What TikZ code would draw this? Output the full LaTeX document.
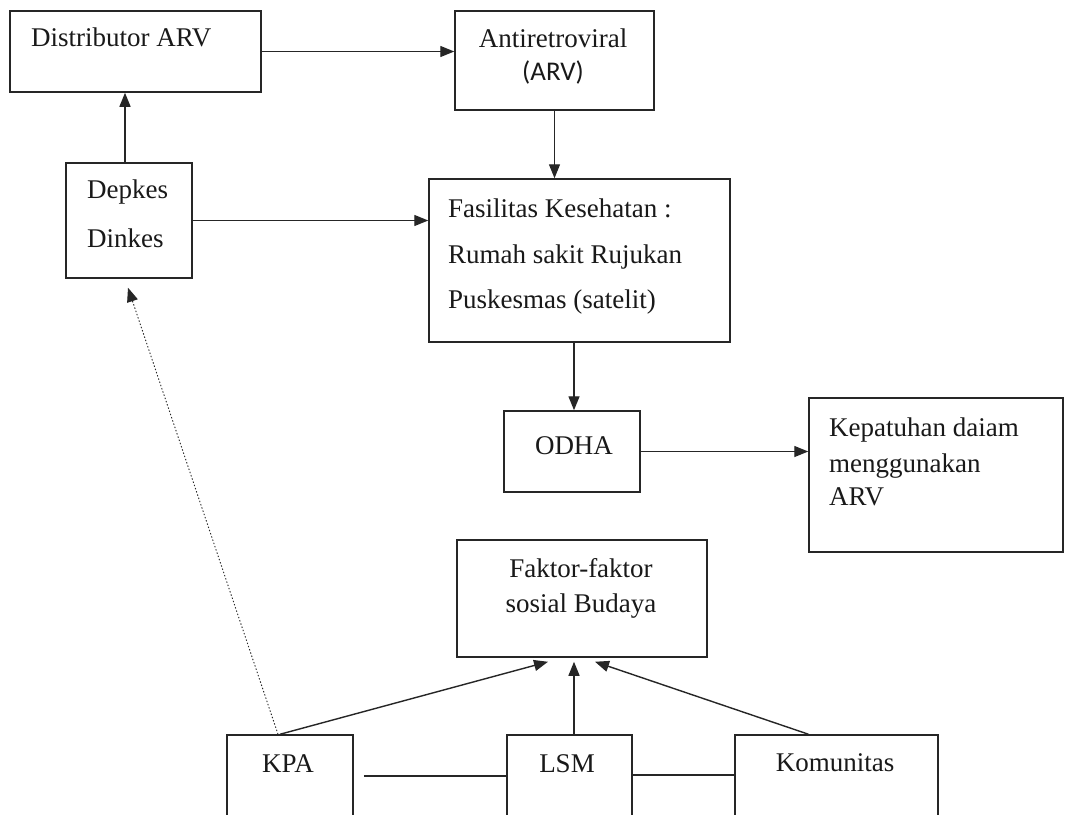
\documentclass[tikz,border=0pt]{standalone}
\usepackage{fontspec}
\setmainfont{Liberation Serif}
\newfontfamily\arvfont{Carlito}
\usetikzlibrary{arrows.meta}
\begin{document}
\begin{tikzpicture}[x=1pt,y=-1pt,
  box/.style={draw=black!85, line width=1.5pt, rectangle, inner sep=0pt},
  lbl/.style={font=\fontsize{27}{32}\selectfont, inner sep=0pt, text=black!90},
  arr/.style={draw=black!85, line width=1.4pt, -{Triangle[length=14pt,width=11pt]}},
  link/.style={draw=black!85, line width=1.4pt}]
\clip (0,0) rectangle (1067,814);
\fill[white] (0,0) rectangle (1067,814);
% boxes
\node[box, minimum width=251pt, minimum height=81pt] (dist) at (135.5,51.5) {};
\node[box, minimum width=199pt, minimum height=99pt] (arv) at (554.5,60.5) {};
\node[box, minimum width=126pt, minimum height=115pt] (dep) at (129,220.5) {};
\node[box, minimum width=301pt, minimum height=163pt] (fas) at (579.5,260.5) {};
\node[box, minimum width=136pt, minimum height=81pt] (odha) at (572,451.5) {};
\node[box, minimum width=254pt, minimum height=154pt] (kep) at (936,475) {};
\node[box, minimum width=250pt, minimum height=117pt] (fak) at (582,598.5) {};
\node[box, minimum width=126pt, minimum height=105pt] (kpa) at (290,787.5) {};
\node[box, minimum width=125pt, minimum height=105pt] (lsm) at (569.5,787.5) {};
\node[box, minimum width=203pt, minimum height=105pt] (kom) at (836.5,787.5) {};
% texts
\node[lbl, anchor=base west] (t1) at (31,46) {Distributor ARV};
\node[lbl, anchor=base] (t2) at (553,47) {Antiretroviral};
\node[lbl, anchor=base] (t3) at (553,80) {\arvfont (ARV)};
\node[lbl, anchor=base west] (t4) at (87,198) {Depkes};
\node[lbl, anchor=base west] (t5) at (87,247) {Dinkes};
\node[lbl, anchor=base west] (t6) at (448,217) {Fasilitas Kesehatan :};
\node[lbl, anchor=base west] (t7) at (448,263) {Rumah sakit Rujukan};
\node[lbl, anchor=base west] (t8) at (448,308) {Puskesmas (satelit)};
\node[lbl, anchor=base] (t9) at (574,454) {ODHA};
\node[lbl, anchor=base west] (t10) at (829,436) {Kepatuhan daiam};
\node[lbl, anchor=base west] (t11) at (829,472) {menggunakan};
\node[lbl, anchor=base west] (t12) at (829,505) {ARV};
\node[lbl, anchor=base] (t13) at (581,577) {Faktor-faktor};
\node[lbl, anchor=base] (t14) at (581,612) {sosial Budaya};
\node[lbl, anchor=base] (t15) at (288,772) {KPA};
\node[lbl, anchor=base] (t16) at (567,772) {LSM};
\node[lbl, anchor=base] (t17) at (835,771) {Komunitas};
% connectors
\draw[arr] (dist.east) -- (dist.east -| arv.west);
\draw[arr] ([xshift=-4pt]dep.north) -- ([xshift=-4pt]dep.north |- dist.south);
\draw[arr] (dep.east) -- (dep.east -| fas.west);
\draw[arr] (arv.south) -- (arv.south |- fas.north);
\draw[arr] ([xshift=2pt]odha.north |- fas.south) -- ([xshift=2pt]odha.north);
\draw[arr] (odha.east) -- (odha.east -| kep.west);
\draw[arr] ([xshift=-10pt]kpa.north) -- ([xshift=-34pt,yshift=-4pt]fak.south);
\draw[arr] ([xshift=4.5pt]lsm.north) -- ([xshift=4.5pt,yshift=-4pt]lsm.north |- fak.south);
\draw[arr] ([xshift=-28pt]kom.north) -- ([xshift=13pt,yshift=-4pt]fak.south);
\draw[arr, dotted, line width=0.9pt] ([xshift=-12pt]kpa.north) -- ([xshift=-1pt,yshift=-9pt]dep.south);
\draw[link] ([xshift=10pt,yshift=11.5pt]kpa.east) -- ([yshift=11.5pt]lsm.west);
\draw[link] ([yshift=12.5pt]lsm.east) -- ([yshift=12.5pt]kom.west);
\end{tikzpicture}
\end{document}
